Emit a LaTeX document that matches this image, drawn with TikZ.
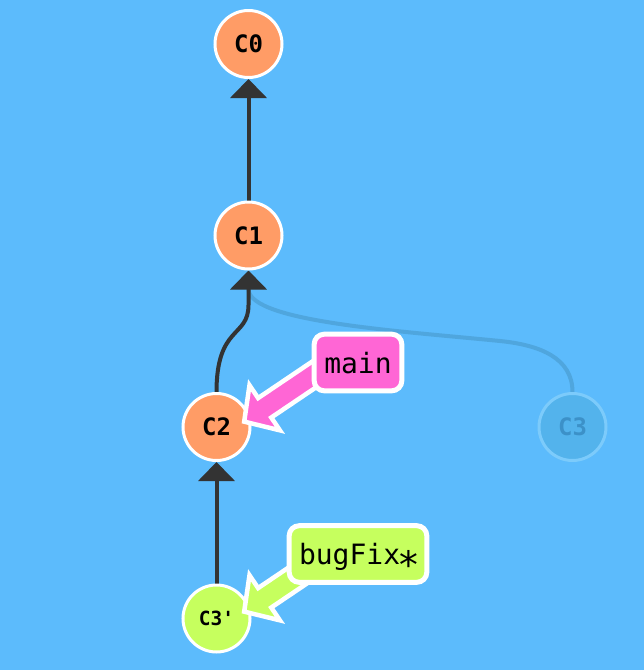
\documentclass[tikz,border=0pt]{standalone}
\usepackage{graphicx}
\usepackage{fontspec}
\newfontfamily\monofont{DejaVu Sans Mono}
\usetikzlibrary{arrows.meta,calc}
\pgfdeclarelayer{bglayer}
\pgfdeclarelayer{edgelayer}
\pgfsetlayers{bglayer,edgelayer,main}
\definecolor{bgblue}{HTML}{5CBBFC}
\definecolor{commitorange}{HTML}{FF9C66}
\definecolor{mainpink}{HTML}{FF66D5}
\definecolor{fixgreen}{HTML}{C6FF5E}
\definecolor{darkline}{HTML}{333333}
\definecolor{fadeline}{HTML}{4FA6DE}
\definecolor{fadefill}{HTML}{53B3EC}
\definecolor{fadeborder}{HTML}{7CCBFB}
\definecolor{fadetext}{HTML}{3C91C8}
\tikzset{
  commit/.style={circle, minimum size=67pt, inner sep=0pt, line width=3pt,
    draw=white, fill=commitorange, text=black,
    font=\monofont\bfseries\fontsize{24}{24}\selectfont},
  fadedcommit/.style={commit, draw=fadeborder, fill=fadefill, text=fadetext},
  parentedge/.style={line width=4pt, draw=darkline,
    -{Triangle[width=36pt,length=19pt]}},
  fadededge/.style={parentedge, draw=fadeline},
  branchlabel/.style={rectangle, rounded corners=10pt, line width=5pt, draw=white,
    minimum height=56.6pt, inner sep=0pt, text height=21pt, text depth=0pt,
    font=\monofont\fontsize{28}{28}\selectfont, text=black},
  branchshape/.style={line width=4.5pt, draw=white, line join=miter},
}
\begin{document}
\begin{tikzpicture}[x=1pt,y=-1pt]
\useasboundingbox (0,0) rectangle (644,670);
\begin{pgfonlayer}{bglayer}
  \fill[bgblue] (0,0) rectangle (644,670);
\end{pgfonlayer}

% commits
\node[commit] (C0) at (248.5,44) {C0};
\node[commit] (C1) at (248.5,235.5) {C1};
\node[commit] (C2) at (216.5,427) {C2};
\node[fadedcommit] (C3) at (572.5,427) {C3};
\node[commit, fill=fixgreen, font=\monofont\bfseries\fontsize{19.5}{19.5}\selectfont] (C3p) at (216.5,618.5) {C3'};

% parent edges
\begin{pgfonlayer}{edgelayer}
  \draw[fadededge] (C3.north) .. controls (572.5,358) and (540,345) .. (500,341)
        .. controls (400,331) and (252,322) .. (248.5,290) -- (C1.south);
  \draw[parentedge] (C1.north) -- (C0.south);
  \draw[parentedge] (C2.north) .. controls (216.5,325) and (248.5,338) .. (248.5,305) -- (C1.south);
  \draw[parentedge] (C3p.north) -- (C2.south);
\end{pgfonlayer}

% branch arrows
\begin{scope}[shift={($(C2)+(25.2,-3.7)$)}, rotate=34]
  \filldraw[branchshape, fill=mainpink] (3,0) -- (27.75,-27.2) -- (27.75,-11.75) -- (110,-11.75)
     -- (110,11.75) -- (27.75,11.75) -- (27.75,27.2) -- cycle;
\end{scope}
\begin{scope}[shift={($(C3p)+(25.2,-5.2)$)}, rotate=34]
  \filldraw[branchshape, fill=fixgreen] (3,0) -- (27.75,-27.2) -- (27.75,-11.75) -- (110,-11.75)
     -- (110,11.75) -- (27.75,11.75) -- (27.75,27.2) -- cycle;
\end{scope}

% branch labels
\node[branchlabel, fill=mainpink, minimum width=87.6pt] (main) at (358,362.5) {main};
\node[branchlabel, fill=fixgreen, minimum width=137.6pt] (bugFix) at (358,554)
  {bugFix\makebox[16.86pt][c]{\raisebox{-14pt}{\scalebox{1.35}{*}}}};
\end{tikzpicture}
\end{document}
